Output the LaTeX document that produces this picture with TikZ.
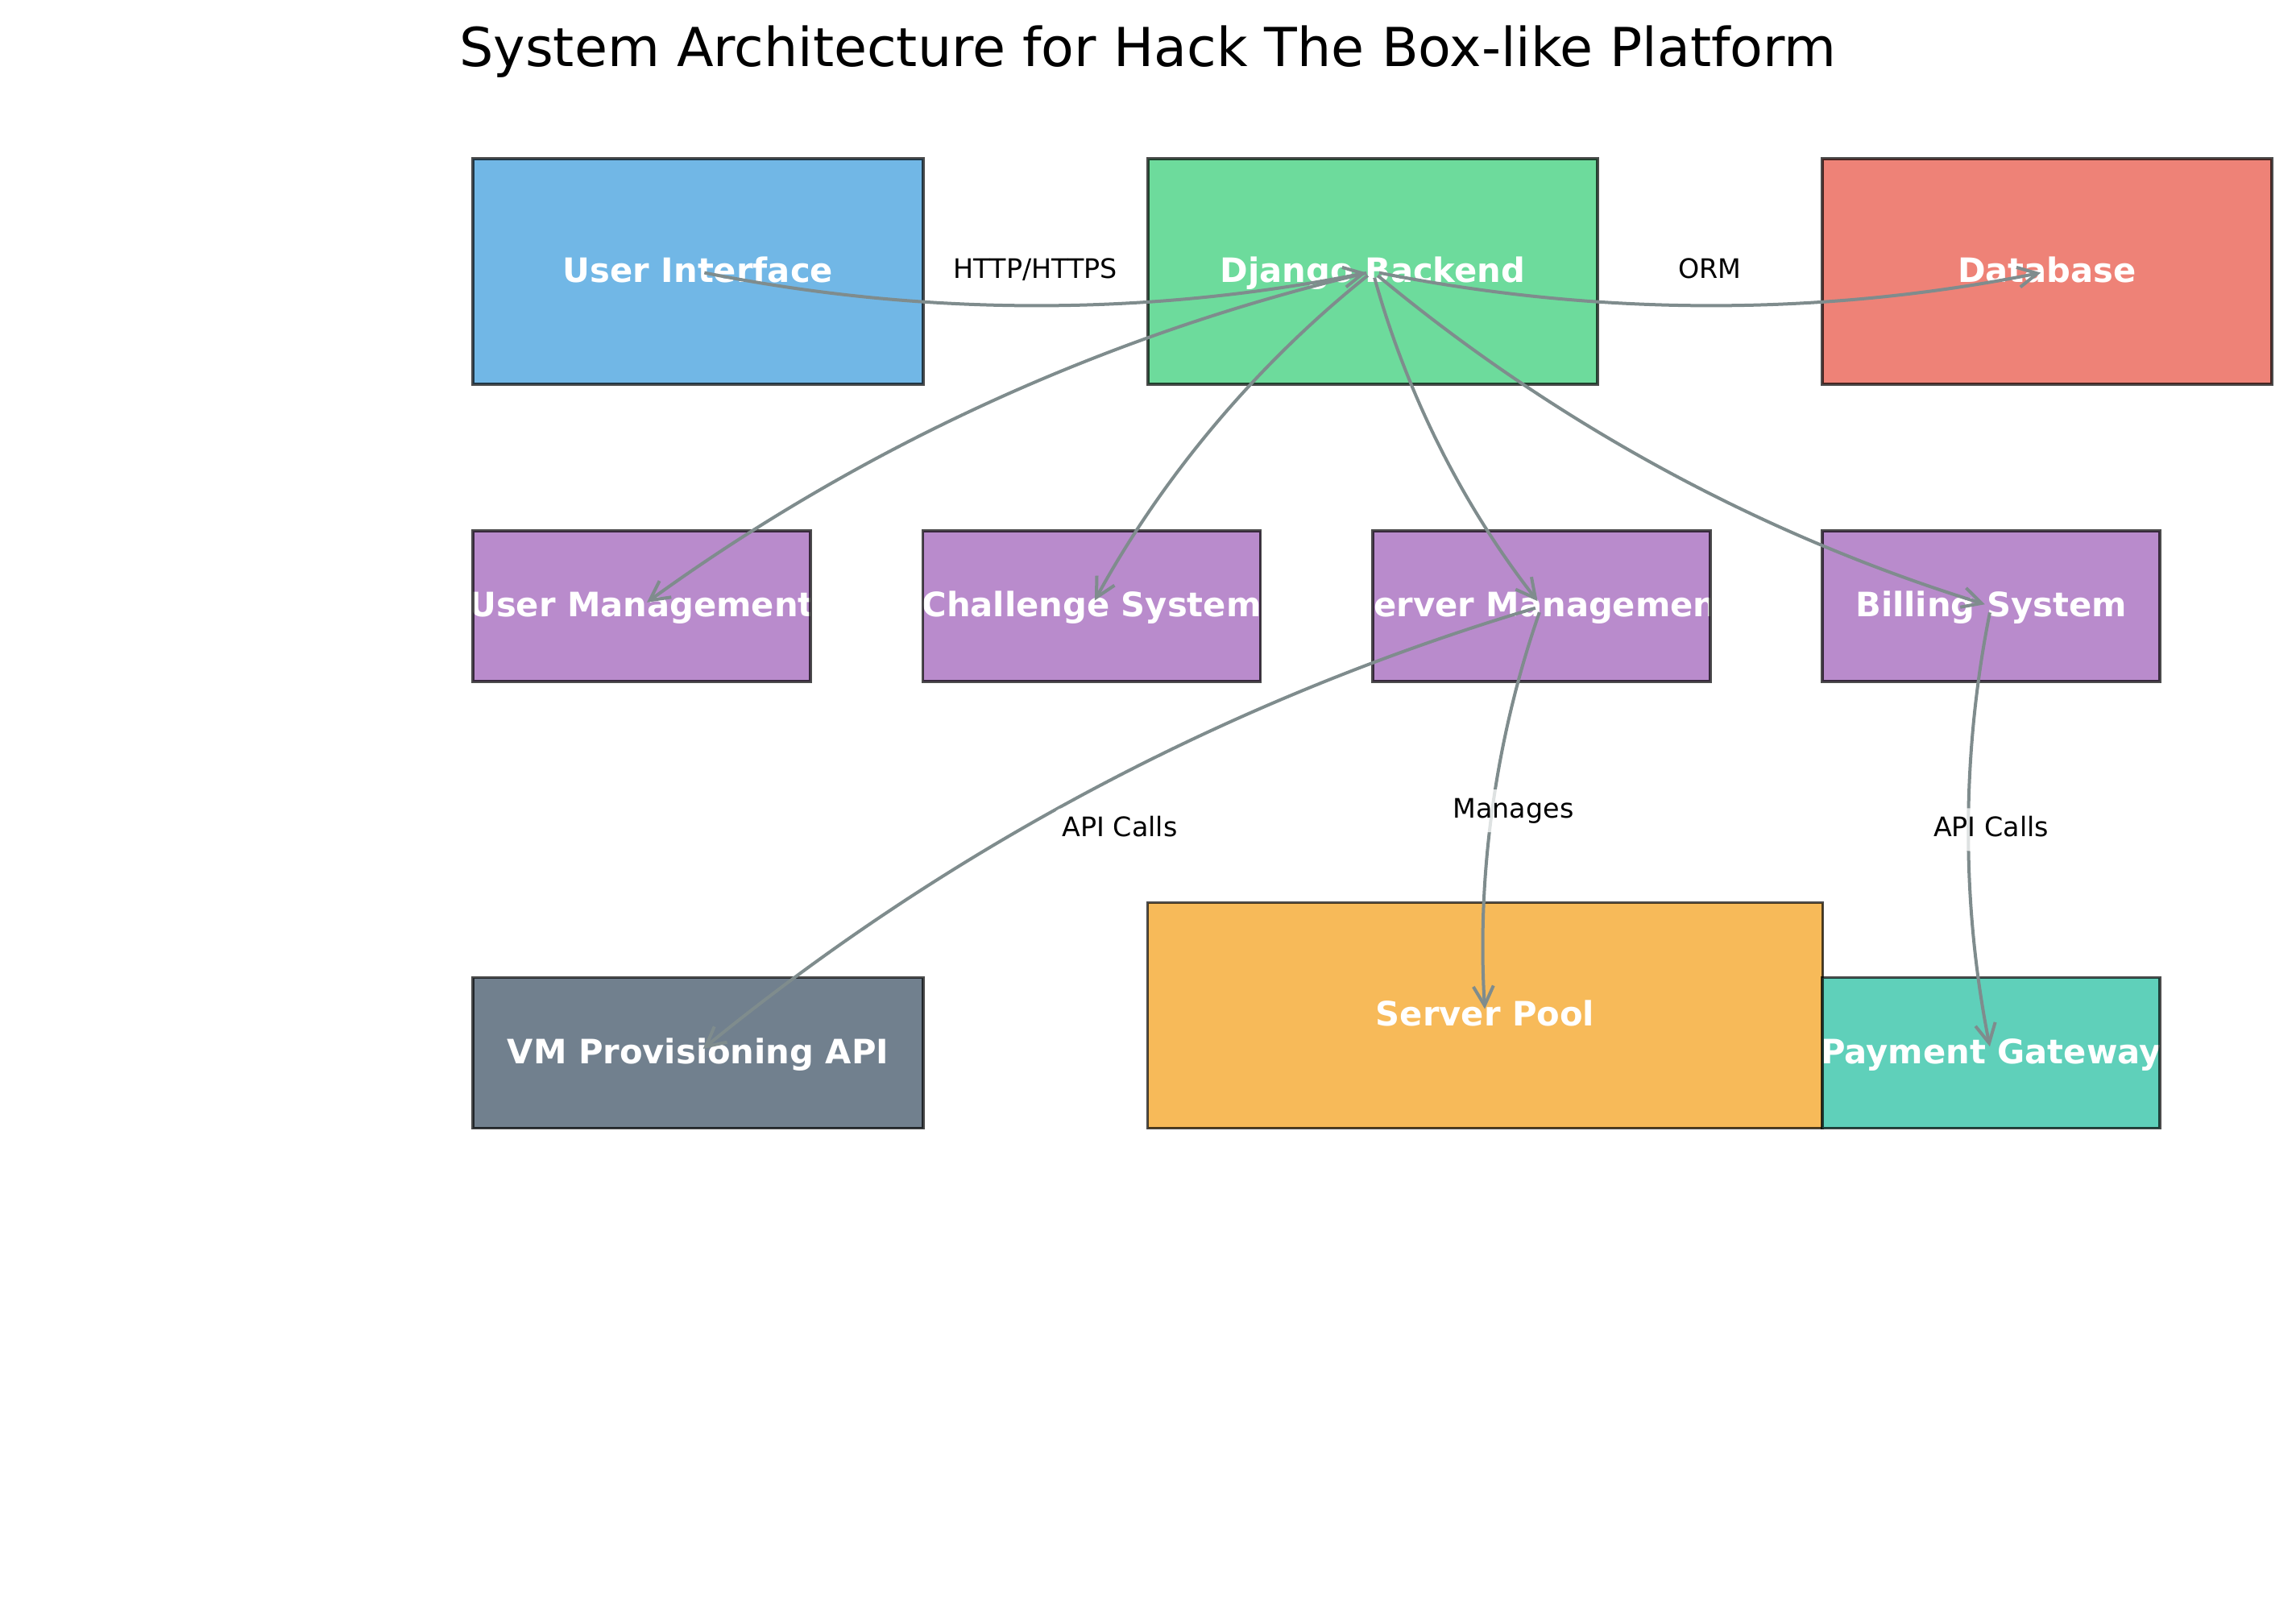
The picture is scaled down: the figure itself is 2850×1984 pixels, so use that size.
\documentclass[tikz,border=0pt]{standalone}
\usepackage{fontspec}
\setmainfont{DejaVu Sans}
\usetikzlibrary{calc,arrows.meta}
\definecolor{cUI}{HTML}{71B7E6}
\definecolor{cDJ}{HTML}{6DDB9C}
\definecolor{cDB}{HTML}{EE8277}
\definecolor{cMOD}{HTML}{B98BCC}
\definecolor{cVM}{HTML}{71808E}
\definecolor{cSP}{HTML}{F7BA59}
\definecolor{cPG}{HTML}{5FD0BA}
\definecolor{edgegray}{HTML}{7F8C8D}
\newcommand\titlefnt{\fontsize{66.67pt}{80pt}\selectfont}
\newcommand\boxfnt{\fontsize{41.67pt}{50pt}\selectfont\bfseries}
\newcommand\edgefnt{\fontsize{33.33pt}{40pt}\selectfont}
\newcommand\curvedge[2]{%
  \path ($(#1.center)!0.5!(#2.center)$) coordinate (mid-#1-#2);
  \path ($(mid-#1-#2)!0.2!-90:(#2.center)$) coordinate (ctl-#1-#2);
  \draw[conn] (#1.center) .. controls ($(#1.center)!0.6667!(ctl-#1-#2)$) and ($(#2.center)!0.6667!(ctl-#1-#2)$) .. (#2.center);
}
\tikzset{
  box/.style={rectangle, draw=black, draw opacity=0.7, line width=3.5pt, inner sep=0pt, outer sep=0pt},
  boxtext/.style={path picture={\node[text=white, font=\boxfnt, anchor=base, inner sep=0pt] at ([yshift=-13pt]path picture bounding box.center) {#1};}},
  conn/.style={draw=edgegray, line width=4pt, shorten <=8pt, shorten >=8pt, -{Straight Barb[length=24pt,width=25pt]}},
  elabel/.style={fill=white, fill opacity=0.75, text opacity=1, rounded corners=10pt, inner xsep=10pt, inner ysep=10pt, text height=25pt, text depth=8pt, font=\edgefnt, text=black}
}
\begin{document}
\begin{tikzpicture}[x=1pt,y=-1pt]
\useasboundingbox (0,0) rectangle (2850,1984);
\node[font=\titlefnt, anchor=base, inner sep=0pt] (title) at (1425,82) {System Architecture for Hack The Box-like Platform};
% top row
\node[box, fill=cUI, minimum width=559pt, minimum height=280pt, boxtext={User Interface}] (ui) at (866.5,337) {};
\node[box, fill=cDJ, minimum width=558pt, minimum height=280pt, boxtext={Django Backend}] (dj) at (1704,337) {};
\node[box, fill=cDB, minimum width=558pt, minimum height=280pt, boxtext={Database}] (db) at (2541,337) {};
% middle row
\node[box, fill=cMOD, minimum width=419pt, minimum height=187pt, boxtext={User Management}] (um) at (796.5,752.5) {};
\node[box, fill=cMOD, minimum width=419pt, minimum height=187pt, boxtext={Challenge System}] (cs) at (1355,752.5) {};
\node[box, fill=cMOD, minimum width=419pt, minimum height=187pt, boxtext={Server Management}] (sm) at (1913.5,752.5) {};
\node[box, fill=cMOD, minimum width=419pt, minimum height=187pt, boxtext={Billing System}] (bs) at (2471.5,752.5) {};
% bottom row
\node[box, fill=cVM, minimum width=559pt, minimum height=187pt, boxtext={VM Provisioning API}] (vm) at (866.5,1307) {};
\node[box, fill=cSP, minimum width=838pt, minimum height=280pt, boxtext={Server Pool}] (sp) at (1843.5,1260.5) {};
\node[box, fill=cPG, minimum width=419pt, minimum height=187pt, boxtext={Payment Gateway}] (pg) at (2471.5,1307) {};
% connectors
\curvedge{ui}{dj}
\curvedge{dj}{db}
\curvedge{dj}{um}
\curvedge{dj}{cs}
\curvedge{dj}{sm}
\curvedge{dj}{bs}
\curvedge{sm}{vm}
\curvedge{sm}{sp}
\curvedge{bs}{pg}
% edge labels
\node[elabel] (l1) at ($(ui.center)!0.5!(dj.center)$) {HTTP/HTTPS};
\node[elabel] (l2) at ($(dj.center)!0.5!(db.center)$) {ORM};
\node[elabel] (l3) at ($(sm.center)!0.5!(vm.center)$) {API Calls};
\node[elabel] (l4) at ($(sm.center)!0.5!(sp.center)$) {Manages};
\node[elabel] (l5) at ($(bs.center)!0.5!(pg.center)$) {API Calls};
\end{tikzpicture}
\end{document}
